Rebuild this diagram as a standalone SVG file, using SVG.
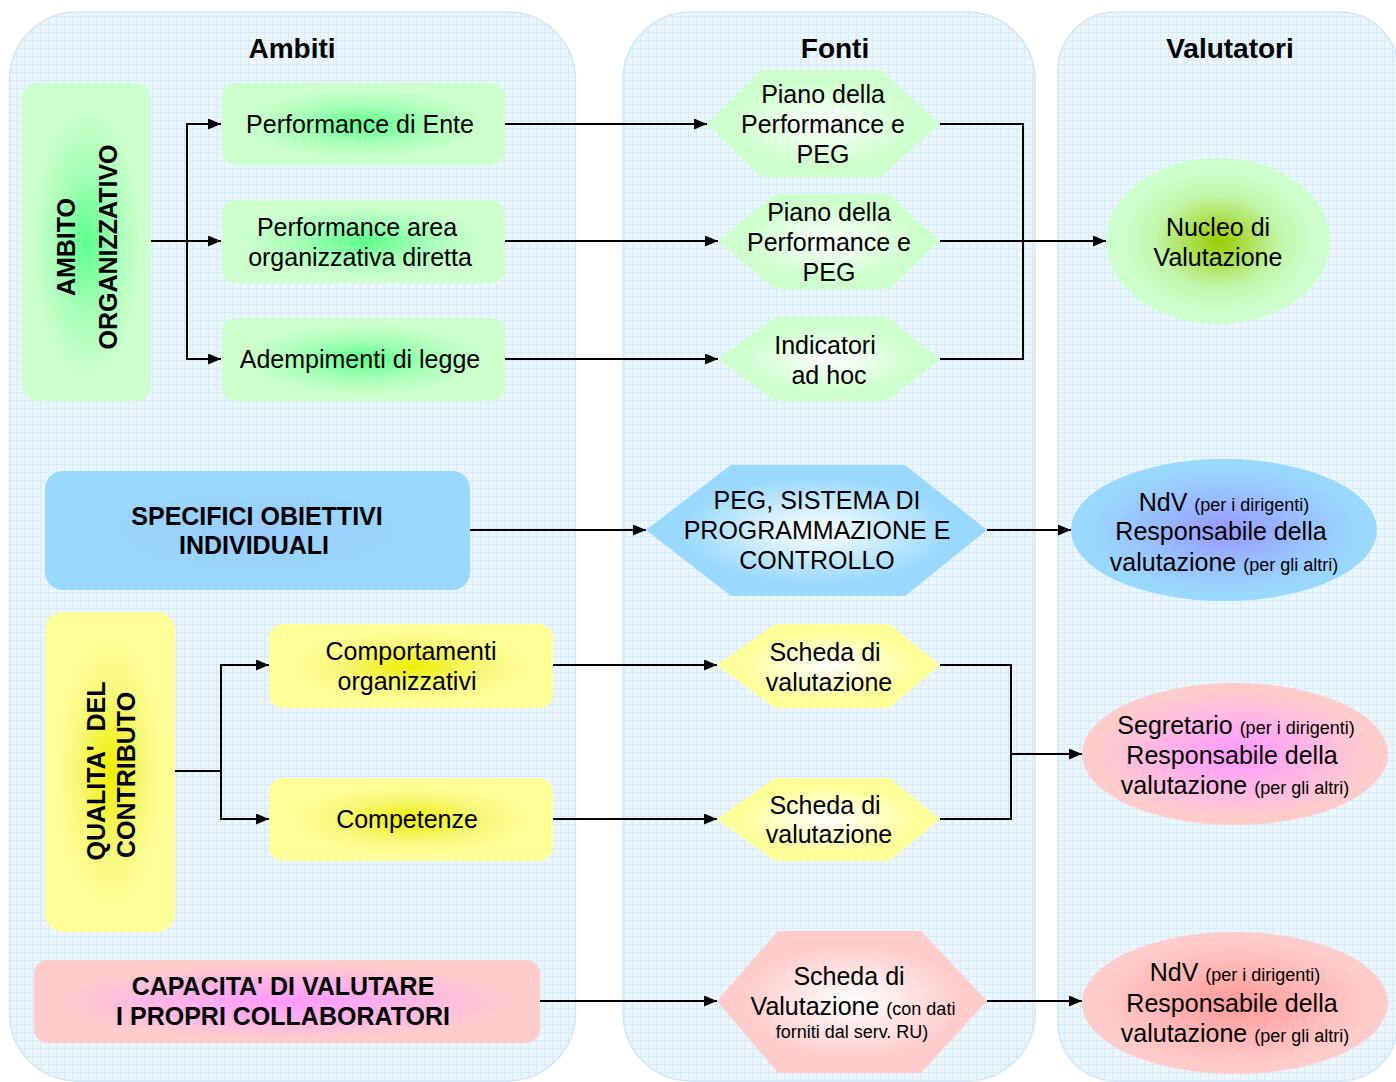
<svg xmlns="http://www.w3.org/2000/svg" width="1396" height="1082" viewBox="0 0 1396 1082">
<style>
text{font-family:"Liberation Sans",Arial,sans-serif;fill:#000;}
.t{font-size:25px;text-anchor:middle;}
.b{font-size:25px;font-weight:bold;text-anchor:middle;}
.h{font-size:28px;font-weight:bold;text-anchor:middle;}
.s{font-size:18px;}
.panel{fill:url(#grid);stroke:#cde7fa;stroke-width:1.5;}
.c{fill:none;stroke:#000;stroke-width:2;}
.a{marker-end:url(#arr);}
</style>
<defs>
<pattern id="grid" width="8" height="8" patternUnits="userSpaceOnUse">
<rect width="8" height="8" fill="#eaf5fe"/>
<path d="M0,0.5H8M0.5,0V8" stroke="#d5ebfb" stroke-width="1"/>
<rect x="4" y="4" width="1" height="1" fill="#dff0fc"/>
</pattern>
<marker id="arr" viewBox="0 0 13 11" refX="13" refY="5.5" markerWidth="13" markerHeight="11" markerUnits="userSpaceOnUse" orient="auto">
<path d="M0,0L13,5.5L0,11z" fill="#000"/>
</marker>
<radialGradient id="gBox"><stop offset="0" stop-color="#5cff8a"/><stop offset="0.45" stop-color="#a6ffb8"/><stop offset="0.85" stop-color="#ccffcc"/></radialGradient>
<radialGradient id="gHex"><stop offset="0" stop-color="#ffffff"/><stop offset="0.8" stop-color="#ccffcc"/></radialGradient>
<radialGradient id="gNuc"><stop offset="0" stop-color="#99cc00"/><stop offset="0.55" stop-color="#c2f5a8"/><stop offset="0.85" stop-color="#ccffcc"/></radialGradient>
<radialGradient id="bBox"><stop offset="0" stop-color="#99ccff"/><stop offset="0.8" stop-color="#99d9ff"/></radialGradient>
<radialGradient id="bHex"><stop offset="0" stop-color="#ffffff"/><stop offset="0.8" stop-color="#99d9ff"/></radialGradient>
<radialGradient id="bEll"><stop offset="0" stop-color="#9999ff"/><stop offset="0.6" stop-color="#99c6ff"/><stop offset="0.9" stop-color="#99d9ff"/></radialGradient>
<radialGradient id="yBox"><stop offset="0" stop-color="#eeee00"/><stop offset="0.5" stop-color="#f7f77a"/><stop offset="0.85" stop-color="#ffff99"/></radialGradient>
<radialGradient id="yHex"><stop offset="0" stop-color="#ffffff"/><stop offset="0.8" stop-color="#ffff99"/></radialGradient>
<radialGradient id="pBox"><stop offset="0" stop-color="#ff99ff"/><stop offset="0.6" stop-color="#ffbbe0"/><stop offset="0.9" stop-color="#ffcccc"/></radialGradient>
<radialGradient id="pHex"><stop offset="0" stop-color="#ffffff"/><stop offset="0.8" stop-color="#ffcccc"/></radialGradient>
<radialGradient id="pEll"><stop offset="0" stop-color="#ff99ff"/><stop offset="0.6" stop-color="#ffbbe0"/><stop offset="0.9" stop-color="#ffcccc"/></radialGradient>
<radialGradient id="rEll"><stop offset="0" stop-color="#ff9999"/><stop offset="0.6" stop-color="#ffbbbb"/><stop offset="0.9" stop-color="#ffcccc"/></radialGradient>
</defs>

<g id="panels">
<rect class="panel" x="9.5" y="12" width="566" height="1069" rx="68" ry="68"/>
<rect class="panel" x="623" y="12" width="412" height="1069" rx="68" ry="68"/>
<rect class="panel" x="1058" y="12" width="340" height="1069" rx="58" ry="58"/>
<text class="h" x="292" y="58">Ambiti</text>
<text class="h" x="835" y="58">Fonti</text>
<text class="h" x="1230" y="58">Valutatori</text>
</g>

<g id="connectors">
<path class="c a" d="M151,241H221"/>
<path class="c a" d="M187,241V124H221"/>
<path class="c a" d="M187,241V359H221"/>
<path class="c a" d="M505,124H707"/>
<path class="c a" d="M505,241H718"/>
<path class="c a" d="M505,359H718"/>
<path class="c" d="M940,124H1023V359H940"/>
<path class="c a" d="M940,241H1106"/>
<path class="c a" d="M470,530H646"/>
<path class="c a" d="M987,530H1071"/>
<path class="c" d="M175,771H221M221,665V819"/>
<path class="c a" d="M220,665H269"/>
<path class="c a" d="M220,819H269"/>
<path class="c a" d="M553,665H717"/>
<path class="c a" d="M553,819H717"/>
<path class="c" d="M940,665H1011V819H940"/>
<path class="c a" d="M1011,754H1082"/>
<path class="c a" d="M540,1001H717"/>
<path class="c a" d="M987,1001H1082"/>
</g>

<g id="ambito-organizzativo">
<rect x="22" y="83" width="129" height="318" rx="16" fill="url(#gBox)"/>
<text class="b" transform="translate(75,247) rotate(-90)">AMBITO</text>
<text class="b" transform="translate(117,247) rotate(-90)">ORGANIZZATIVO</text>
</g>
<g id="perf-ente">
<rect x="222" y="83" width="283" height="82" rx="14" fill="url(#gBox)"/>
<text class="t" x="360" y="133">Performance di Ente</text>
</g>
<g id="perf-area">
<rect x="222" y="200" width="283" height="83" rx="14" fill="url(#gBox)"/>
<text class="t" x="357" y="236">Performance area</text>
<text class="t" x="360" y="266">organizzativa diretta</text>
</g>
<g id="adempimenti">
<rect x="222" y="318" width="283" height="83" rx="14" fill="url(#gBox)"/>
<text class="t" x="360" y="368">Adempimenti di legge</text>
</g>

<g id="piano1">
<polygon points="707,124 761,70 881,70 940,124 881,177 761,177" fill="url(#gHex)"/>
<text class="t" x="823" y="103">Piano della</text>
<text class="t" x="823" y="133">Performance e</text>
<text class="t" x="823" y="163">PEG</text>
</g>
<g id="piano2">
<polygon points="718,241 775,194 889,194 940,241 889,289 775,289" fill="url(#gHex)"/>
<text class="t" x="829" y="221">Piano della</text>
<text class="t" x="829" y="251">Performance e</text>
<text class="t" x="829" y="281">PEG</text>
</g>
<g id="indicatori">
<polygon points="718,359 775,317 887,317 940,359 887,401 775,401" fill="url(#gHex)"/>
<text class="t" x="825" y="354">Indicatori</text>
<text class="t" x="829" y="384">ad hoc</text>
</g>
<g id="nucleo">
<ellipse cx="1218" cy="241" rx="112" ry="83" fill="url(#gNuc)"/>
<text class="t" x="1218" y="236">Nucleo di</text>
<text class="t" x="1218" y="266">Valutazione</text>
</g>

<g id="specifici">
<rect x="45" y="471" width="425" height="119" rx="18" fill="url(#bBox)"/>
<text class="b" x="257" y="525">SPECIFICI OBIETTIVI</text>
<text class="b" x="254" y="554">INDIVIDUALI</text>
</g>
<g id="peg-sistema">
<polygon points="646,530 731,465 905,465 987,530 905,596 731,596" fill="url(#bHex)"/>
<text class="t" x="817" y="509">PEG, SISTEMA DI</text>
<text class="t" x="817" y="539">PROGRAMMAZIONE E</text>
<text class="t" x="817" y="569">CONTROLLO</text>
</g>
<g id="ndv-blu">
<ellipse cx="1224" cy="530" rx="153" ry="71" fill="url(#bEll)"/>
<text class="t" x="1224" y="511">NdV <tspan class="s">(per i dirigenti)</tspan></text>
<text class="t" x="1221" y="540">Responsabile della</text>
<text class="t" x="1224" y="571">valutazione <tspan class="s">(per gli altri)</tspan></text>
</g>

<g id="qualita">
<rect x="45" y="612" width="130" height="320" rx="18" fill="url(#yBox)"/>
<text class="b" style="white-space:pre" transform="translate(105,771) rotate(-90)">QUALITA'  DEL</text>
<text class="b" transform="translate(135,775) rotate(-90)">CONTRIBUTO</text>
</g>
<g id="comportamenti">
<rect x="269" y="624" width="284" height="84" rx="14" fill="url(#yBox)"/>
<text class="t" x="411" y="660">Comportamenti</text>
<text class="t" x="407" y="690">organizzativi</text>
</g>
<g id="competenze">
<rect x="269" y="778" width="284" height="83" rx="14" fill="url(#yBox)"/>
<text class="t" x="407" y="828">Competenze</text>
</g>
<g id="scheda1">
<polygon points="717,665 775,624 889,624 940,665 889,708 775,708" fill="url(#yHex)"/>
<text class="t" x="825" y="661">Scheda di</text>
<text class="t" x="829" y="691">valutazione</text>
</g>
<g id="scheda2">
<polygon points="717,819 775,778 889,778 940,819 889,861 775,861" fill="url(#yHex)"/>
<text class="t" x="825" y="814">Scheda di</text>
<text class="t" x="829" y="843">valutazione</text>
</g>
<g id="segretario">
<ellipse cx="1235" cy="754" rx="153" ry="71" fill="url(#pEll)"/>
<text class="t" x="1236" y="734">Segretario <tspan class="s">(per i dirigenti)</tspan></text>
<text class="t" x="1232" y="764">Responsabile della</text>
<text class="t" x="1235" y="794">valutazione <tspan class="s">(per gli altri)</tspan></text>
</g>

<g id="capacita">
<rect x="34" y="960" width="506" height="83" rx="14" fill="url(#pBox)"/>
<text class="b" x="283" y="995">CAPACITA' DI VALUTARE</text>
<text class="b" x="283" y="1025">I PROPRI COLLABORATORI</text>
</g>
<g id="scheda-ru">
<polygon points="717,1001 778,931 921,931 987,1001 921,1073 778,1073" fill="url(#pHex)"/>
<text class="t" x="849" y="985">Scheda di</text>
<text class="t" x="853" y="1015">Valutazione <tspan class="s">(con dati</tspan></text>
<text class="t s" x="852" y="1038">forniti dal serv. RU)</text>
</g>
<g id="ndv-rosa">
<ellipse cx="1235" cy="1003" rx="153" ry="71" fill="url(#rEll)"/>
<text class="t" x="1235" y="981">NdV <tspan class="s">(per i dirigenti)</tspan></text>
<text class="t" x="1232" y="1012">Responsabile della</text>
<text class="t" x="1235" y="1042">valutazione <tspan class="s">(per gli altri)</tspan></text>
</g>
</svg>
